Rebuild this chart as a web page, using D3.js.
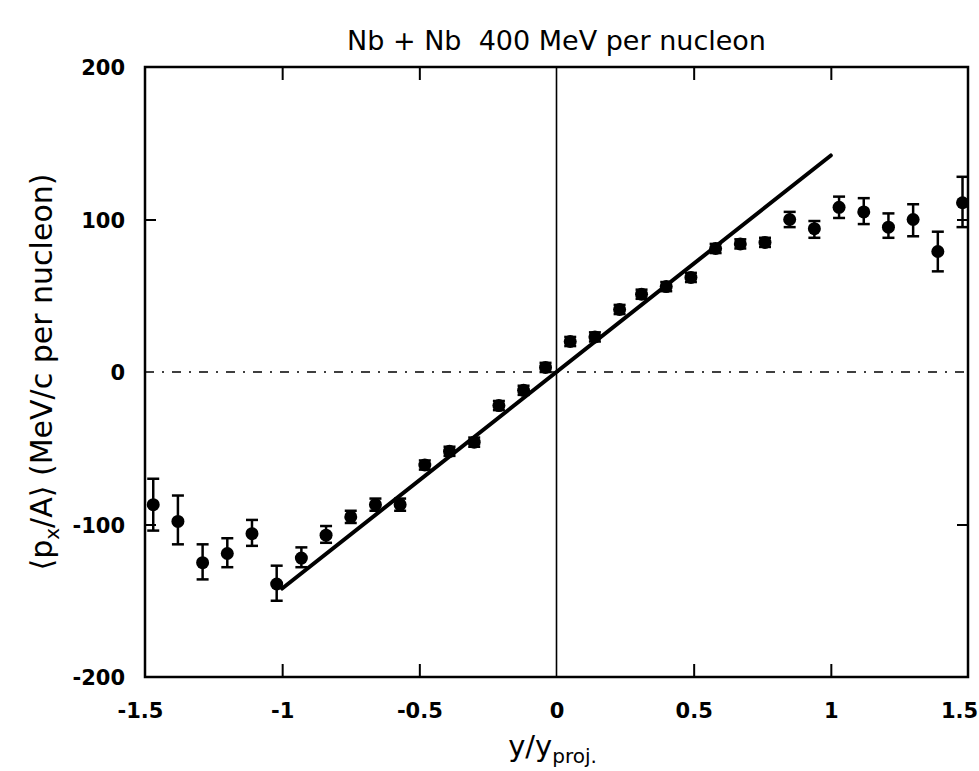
<!DOCTYPE html>
<html>
<head>
<meta charset="utf-8">
<script src="https://cdn.jsdelivr.net/npm/d3@7"></script>
<style>
  body { margin: 0; background: #fff; }
  #chart { width: 979px; height: 771px; }
  text { font-family: 'DejaVu Sans', sans-serif; }
</style>
</head>
<body>
<div id="chart"></div>
<script>
// rapidity bins (y/y_proj)
const rapidity = [-1.47, -1.38, -1.29, -1.20, -1.11, -1.02, -0.93, -0.84, -0.75, -0.66,
  -0.57, -0.48, -0.39, -0.30, -0.21, -0.12, -0.04, 0.05, 0.14, 0.23,
  0.31, 0.40, 0.49, 0.58, 0.67, 0.76, 0.85, 0.94, 1.03, 1.12,
  1.21, 1.30, 1.39, 1.48];

// <px/A> in MeV/c per nucleon
const pxA = [-87, -98, -125, -119, -106, -139, -122, -107, -95, -87,
  -87, -61, -52, -46, -22, -12, 3, 20, 23, 41,
  51, 56, 62, 81, 84, 85, 100, 94, 108, 105,
  95, 100, 79, 111];

// error bars (upper / lower)
const errUp = [17, 17, 12, 10, 9, 12, 7, 6, 4, 4,
  4, 3, 3, 3, 3, 3, 3, 3, 3, 3,
  3, 3, 3, 3, 3, 3, 5, 5, 7, 9,
  9, 10, 13, 17];
const errDown = [17, 15, 11, 9, 8, 11, 6, 5, 4, 4,
  4, 3, 3, 3, 3, 3, 3, 3, 3, 3,
  3, 3, 3, 3, 3, 3, 5, 6, 7, 8,
  7, 11, 13, 16];

// straight-line fit through the mid-rapidity region
const fitX = [-1.0, 1.0];
const fitY = [-142, 142];

const xTicks = [-1.5, -1, -0.5, 0, 0.5, 1, 1.5];
const yTicks = [-200, -100, 0, 100, 200];

const width = 979;
const height = 771;
const margin = { top: 67, right: 11, bottom: 94, left: 145 };
const innerW = width - margin.left - margin.right;
const innerH = height - margin.top - margin.bottom;

const data = rapidity.map((x, i) => ({ x: x, y: pxA[i], up: errUp[i], down: errDown[i] }));

const svg = d3.select("#chart").append("svg")
  .attr("width", width)
  .attr("height", height);

const g = svg.append("g")
  .attr("transform", `translate(${margin.left}, ${margin.top})`);

const x = d3.scaleLinear().domain([-1.5, 1.5]).range([0, innerW]);
const y = d3.scaleLinear().domain([-200, 200]).range([innerH, 0]);

// axes: ticks point inward on all four sides
const fmt = d => String(d);
const edge = v => v === -1.5 || v === 1.5 || v === -200 || v === 200;

const bottomAxis = g.append("g")
  .attr("transform", `translate(0, ${innerH})`)
  .call(d3.axisBottom(x).tickValues(xTicks).tickFormat(fmt).tickSize(-13).tickSizeOuter(0).tickPadding(26));
const leftAxis = g.append("g")
  .call(d3.axisLeft(y).tickValues(yTicks).tickFormat(fmt).tickSize(-11).tickSizeOuter(0).tickPadding(20));
g.append("g")
  .call(d3.axisTop(x).tickValues(xTicks.filter(v => !edge(v))).tickFormat("").tickSize(-13).tickSizeOuter(0));
g.append("g")
  .attr("transform", `translate(${innerW}, 0)`)
  .call(d3.axisRight(y).tickValues(yTicks.filter(v => !edge(v))).tickFormat("").tickSize(-11).tickSizeOuter(0));

g.selectAll(".domain").remove();
g.selectAll(".tick line").attr("stroke", "#000").attr("stroke-width", 2);
// no tick marks on frame corners or on the zero lines
g.selectAll(".tick").filter(d => edge(d) || d === 0)
  .select("line").attr("stroke", "none");

[bottomAxis, leftAxis].forEach(a => a.selectAll("text")
  .attr("fill", "#000")
  .style("font-size", "21px")
  .style("font-weight", "bold"));
leftAxis.selectAll("text").attr("dy", "0.36em");
// end labels sit slightly inside the frame corners
bottomAxis.selectAll(".tick text").attr("dx", d => d === 1.5 ? -9 : d === -1.5 ? -5 : 0);

// frame
g.append("rect")
  .attr("width", innerW)
  .attr("height", innerH)
  .attr("fill", "none")
  .attr("stroke", "#000")
  .attr("stroke-width", 2.5);

// zero lines
g.append("line")
  .attr("x1", x(0)).attr("x2", x(0))
  .attr("y1", 0).attr("y2", innerH)
  .attr("stroke", "#000")
  .attr("stroke-width", 1.6);
g.append("line")
  .attr("x1", 0).attr("x2", innerW)
  .attr("y1", y(0)).attr("y2", y(0))
  .attr("stroke", "#000")
  .attr("stroke-width", 1.5)
  .attr("stroke-dasharray", "9,8,2,8");

// fit line
g.append("line")
  .attr("x1", x(fitX[0])).attr("y1", y(fitY[0]))
  .attr("x2", x(fitX[1])).attr("y2", y(fitY[1]))
  .attr("stroke", "#000")
  .attr("stroke-width", 4)
  .attr("stroke-linecap", "round");

// error bars
const bars = g.append("g")
  .attr("stroke", "#000")
  .attr("stroke-width", 2.5)
  .selectAll("g")
  .data(data)
  .join("g");

bars.append("line")
  .attr("x1", d => x(d.x)).attr("x2", d => x(d.x))
  .attr("y1", d => y(d.y + d.up)).attr("y2", d => y(d.y - d.down));
bars.append("line")
  .attr("x1", d => x(d.x) - 6).attr("x2", d => x(d.x) + 6)
  .attr("y1", d => y(d.y + d.up)).attr("y2", d => y(d.y + d.up));
bars.append("line")
  .attr("x1", d => x(d.x) - 6).attr("x2", d => x(d.x) + 6)
  .attr("y1", d => y(d.y - d.down)).attr("y2", d => y(d.y - d.down));

// points
g.append("g")
  .selectAll("circle")
  .data(data)
  .join("circle")
  .attr("cx", d => x(d.x))
  .attr("cy", d => y(d.y))
  .attr("r", 6.5)
  .attr("fill", "#000");

// title
svg.append("text")
  .attr("x", margin.left + x(0))
  .attr("y", 50)
  .attr("text-anchor", "middle")
  .style("font-size", "27px")
  .style("white-space", "pre")
  .text("Nb + Nb  400 MeV per nucleon");

// x label
const xl = svg.append("text")
  .attr("x", margin.left + x(0) - 4)
  .attr("y", 756)
  .attr("text-anchor", "middle")
  .style("font-size", "29px");
xl.append("tspan").text("y/y");
xl.append("tspan").attr("dy", 7).style("font-size", "20px").text("proj.");

// y label
const yl = svg.append("text")
  .attr("transform", `translate(52, ${margin.top + y(0)}) rotate(-90)`)
  .attr("text-anchor", "middle")
  .style("font-size", "30px");
yl.append("tspan").text("\u27E8p");
yl.append("tspan").attr("dy", 7).style("font-size", "20px").text("x");
yl.append("tspan").attr("dy", -7).text("/A\u27E9 (MeV/c per nucleon)");
</script>
</body>
</html>
